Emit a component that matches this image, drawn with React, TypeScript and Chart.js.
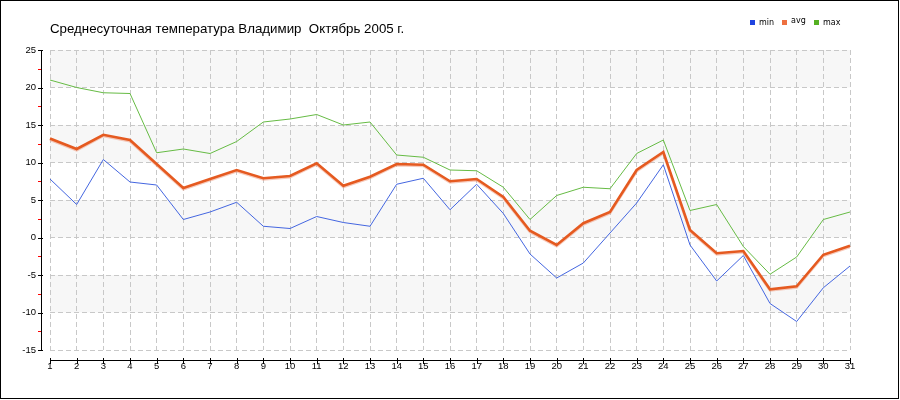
import React, { useEffect, useRef } from "react";
import { Chart, registerables } from "chart.js";

Chart.register(...registerables);

const TITLE = "Среднесуточная температура Владимир  Октябрь 2005 г.";
const days = ["1","2","3","4","5","6","7","8","9","10","11","12","13","14","15","16","17","18","19","20","21","22","23","24","25","26","27","28","29","30","31"];
const minT = [7.8, 4.4, 10.4, 7.4, 7.0, 2.4, 3.4, 4.7, 1.5, 1.2, 2.8, 2.0, 1.5, 7.1, 7.9, 3.7, 7.1, 3.2, -2.2, -5.4, -3.4, 0.6, 4.6, 9.7, -1.0, -5.8, -2.4, -8.8, -11.2, -6.7, -3.8];
const avgT = [13.2, 11.8, 13.7, 13.0, 9.8, 6.6, 7.8, 9.0, 7.9, 8.2, 9.9, 6.9, 8.1, 9.8, 9.7, 7.5, 7.8, 5.4, 0.9, -1.0, 1.9, 3.4, 9.0, 11.4, 1.0, -2.1, -1.8, -6.9, -6.5, -2.3, -1.1];
const maxT = [21.0, 20.0, 19.3, 19.2, 11.3, 11.8, 11.2, 12.8, 15.4, 15.8, 16.4, 15.0, 15.4, 11.0, 10.7, 9.0, 8.9, 6.7, 2.4, 5.6, 6.7, 6.5, 11.2, 13.0, 3.6, 4.4, -1.2, -4.9, -2.6, 2.4, 3.4];
const seriesNames = ["min", "avg", "max"];
const seriesColors = ["#4466e0", "#e55a20", "#66bb44"];
const legendColors = ["#1f44e0", "#ee7040", "#55b022"];
const yMin = -15;
const yMax = 25;
const yStep = 5;

const TICK_FONT = "Liberation Sans";
const LEGEND_FONT = "DejaVu Sans";

const decorPlugin = {
  id: "decor",
  beforeDraw(chart: any) {
    const { ctx, chartArea, scales } = chart;
    const y = scales.y;
    ctx.save();
    ctx.fillStyle = "#ffffff";
    ctx.fillRect(0, 0, chart.width, chart.height);
    ctx.fillStyle = "#f7f7f7";
    for (let v = yMax; v > yMin; v -= 2 * yStep) {
      const top = y.getPixelForValue(v);
      const bot = y.getPixelForValue(v - yStep);
      ctx.fillRect(chartArea.left, top, chartArea.right - chartArea.left, bot - top);
    }
    ctx.restore();
  },
  beforeDatasetDraw(chart: any, args: any) {
    if (args.index === 1) {
      const ctx = chart.ctx;
      ctx.save();
      ctx.shadowColor = "rgba(240,150,120,0.5)";
      ctx.shadowOffsetX = 0;
      ctx.shadowOffsetY = 1.2;
      ctx.shadowBlur = 0;
    }
  },
  afterDatasetDraw(chart: any, args: any) {
    if (args.index === 1) chart.ctx.restore();
  },
  afterDraw(chart: any) {
    const { ctx, chartArea, scales } = chart;
    const x = scales.x;
    const y = scales.y;
    ctx.save();
    // y axis
    const ax = 41.5;
    ctx.strokeStyle = "#000";
    ctx.lineWidth = 1;
    ctx.beginPath();
    ctx.moveTo(ax, Math.round(chartArea.top));
    ctx.lineTo(ax, Math.round(chartArea.bottom) + 1);
    ctx.stroke();
    for (let v = yMin; v <= yMax; v += yStep) {
      const py = Math.round(y.getPixelForValue(v)) + 0.5;
      ctx.strokeStyle = "#000";
      ctx.beginPath();
      ctx.moveTo(38, py);
      ctx.lineTo(43, py);
      ctx.stroke();
      if (v < yMax) {
        const my = Math.round(y.getPixelForValue(v + yStep / 2)) + 0.5;
        ctx.strokeStyle = "#ff0000";
        ctx.beginPath();
        ctx.moveTo(38, my);
        ctx.lineTo(41, my);
        ctx.stroke();
      }
    }
    // x axis
    const ay = 360.5;
    ctx.strokeStyle = "#000";
    ctx.beginPath();
    ctx.moveTo(Math.round(chartArea.left), ay);
    ctx.lineTo(Math.round(chartArea.right) + 1, ay);
    ctx.stroke();
    for (let i = 0; i < days.length; i++) {
      const px = Math.round(x.getPixelForValue(i)) + 0.5;
      ctx.beginPath();
      ctx.moveTo(px, 358);
      ctx.lineTo(px, 364);
      ctx.stroke();
    }
    // title
    ctx.fillStyle = "#000";
    ctx.font = "13.3px 'Liberation Sans'";
    ctx.textBaseline = "alphabetic";
    ctx.textAlign = "left";
    ctx.fillText(TITLE, 50, 33);
    // legend
    ctx.font = `8px '${LEGEND_FONT}'`;
    ctx.textBaseline = "middle";
    const legX = [750, 782, 814];
    for (let i = 0; i < seriesNames.length; i++) {
      ctx.fillStyle = legendColors[i];
      ctx.fillRect(legX[i], 20, 5, 5);
      ctx.fillStyle = "#000";
      ctx.fillText(seriesNames[i], legX[i] + 9, i === 1 ? 21 : 23);
    }
    // frame
    ctx.strokeStyle = "#000";
    ctx.lineWidth = 1;
    ctx.strokeRect(0.5, 0.5, 898, 398);
    ctx.restore();
  },
};

export default function App() {
  const ref = useRef<HTMLCanvasElement>(null);
  useEffect(() => {
    document.body.style.margin = "0";
    const canvas = ref.current;
    if (!canvas) return;
    const data = [minT, avgT, maxT];
    const chart = new Chart(canvas, {
      type: "line",
      data: {
        labels: days,
        datasets: seriesNames.map((name, i) => ({
          label: name,
          data: data[i],
          borderColor: seriesColors[i],
          backgroundColor: seriesColors[i],
          borderWidth: i === 1 ? 2.6 : 1,
          pointRadius: 0,
          pointHoverRadius: 0,
          tension: 0,
          fill: false,
        })),
      },
      options: {
        responsive: false,
        animation: false,
        devicePixelRatio: 1,
        events: [],
        layout: { padding: { top: 50, right: 50, left: 0, bottom: 0 } },
        plugins: {
          legend: { display: false },
          title: { display: false },
          tooltip: { enabled: false },
        },
        scales: {
          x: {
            type: "category",
            offset: false,
            grid: { offset: false, drawTicks: false, color: "#c8c8c8", lineWidth: 1 },
            border: { display: false, dash: [5, 3] },
            ticks: {
              autoSkip: false,
              maxRotation: 0,
              minRotation: 0,
              padding: 11,
              color: "#000",
              font: { family: TICK_FONT, size: 9.5 },
            },
            afterFit: (s: any) => { s.height = 50; },
          },
          y: {
            type: "linear",
            min: yMin,
            max: yMax,
            grid: { drawTicks: false, color: "#c8c8c8", lineWidth: 1 },
            border: { display: false, dash: [5, 3] },
            ticks: {
              stepSize: yStep,
              padding: 14,
              color: "#000",
              font: { family: TICK_FONT, size: 9.5 },
            },
            afterFit: (s: any) => { s.width = 50; },
          },
        },
      },
      plugins: [decorPlugin],
    } as any);
    return () => chart.destroy();
  }, []);
  return (
    <div style={{ width: 900, height: 400 }}>
      <canvas ref={ref} width={900} height={400} style={{ display: "block" }} />
    </div>
  );
}
